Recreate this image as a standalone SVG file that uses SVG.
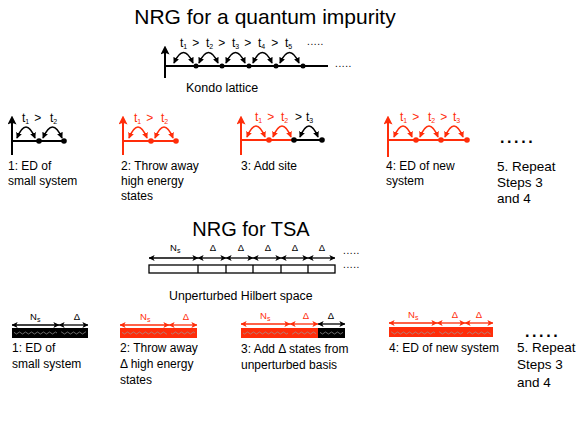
<svg xmlns="http://www.w3.org/2000/svg" width="581" height="432" viewBox="0 0 581 432">
<defs>
<style>
text{font-family:"Liberation Sans",Arial,sans-serif;fill:#000}
.r{fill:#FF2D0A}
.title{font-size:20px}
.lab{font-size:12px}
.big{font-size:13.5px}
.t{font-size:12px}
.gt{font-size:10px}
.ns{font-size:9.5px}
.sub{font-size:7px}
.ln{stroke:#000;stroke-width:2;fill:none}
.lnr{stroke:#FF2D0A;stroke-width:2;fill:none}
.arc{stroke:#000;stroke-width:1.6;fill:none;marker-start:url(#ah);marker-end:url(#ah)}
.arcr{stroke:#FF2D0A;stroke-width:1.6;fill:none;marker-start:url(#ahr);marker-end:url(#ahr)}
.dbl{stroke:#000;stroke-width:1.3;fill:none;marker-start:url(#hh);marker-end:url(#hh)}
.dblr{stroke:#FF2D0A;stroke-width:1.3;fill:none;marker-start:url(#hhr);marker-end:url(#hhr)}
.ax{stroke:#000;stroke-width:2;marker-end:url(#up)}
.axr{stroke:#FF2D0A;stroke-width:2;marker-end:url(#upr)}
.dot{fill:#000}
.dotr{fill:#FF2D0A}
</style>
<marker id="ah" viewBox="0 0 8 8" refX="7" refY="4" markerWidth="6" markerHeight="6" markerUnits="userSpaceOnUse" orient="auto-start-reverse"><path d="M0,0 L8,4 L0,8 z" fill="#000"/></marker>
<marker id="ahr" viewBox="0 0 8 8" refX="7" refY="4" markerWidth="6" markerHeight="6" markerUnits="userSpaceOnUse" orient="auto-start-reverse"><path d="M0,0 L8,4 L0,8 z" fill="#FF2D0A"/></marker>
<marker id="hh" viewBox="0 0 8 8" refX="7.5" refY="4" markerWidth="6" markerHeight="6" markerUnits="userSpaceOnUse" orient="auto-start-reverse"><path d="M0,0 L8,4 L0,8 L2,4 z" fill="#000"/></marker>
<marker id="hhr" viewBox="0 0 8 8" refX="7.5" refY="4" markerWidth="6" markerHeight="6" markerUnits="userSpaceOnUse" orient="auto-start-reverse"><path d="M0,0 L8,4 L0,8 L2,4 z" fill="#FF2D0A"/></marker>
<marker id="up" viewBox="0 0 10 10" refX="5" refY="5" markerWidth="9" markerHeight="9" markerUnits="userSpaceOnUse" orient="auto"><path d="M0,0 L10,5 L0,10 L2,5 z" fill="#000"/></marker>
<marker id="upr" viewBox="0 0 10 10" refX="5" refY="5" markerWidth="9" markerHeight="9" markerUnits="userSpaceOnUse" orient="auto"><path d="M0,0 L10,5 L0,10 L2,5 z" fill="#FF2D0A"/></marker>
<pattern id="wave" width="6" height="6" patternUnits="userSpaceOnUse" x="0" y="330">
<path d="M0,3 Q1.5,1 3,3 T6,3" stroke="#9a9a9a" stroke-width="0.7" fill="none"/>
</pattern>
</defs>
<rect width="581" height="432" fill="#fff"/>

<text class="title" x="265" y="24" text-anchor="middle" style="font-size:21px">NRG for a quantum impurity</text>

<g id="kondo-lattice">
<line class="ax" x1="165" y1="78" x2="165" y2="50"/>
<line class="ln" x1="165" y1="66" x2="328" y2="66"/>
<circle class="dot" cx="196" cy="66" r="2.5"/>
<circle class="dot" cx="222" cy="66" r="2.5"/>
<circle class="dot" cx="249" cy="66" r="2.5"/>
<circle class="dot" cx="276" cy="66" r="2.5"/>
<circle class="dot" cx="303" cy="66" r="2.5"/>
<path class="arc" d="M174,63 Q183.5,42 193,63"/>
<path class="arc" d="M199,63 Q208.5,42 218,63"/>
<path class="arc" d="M226,63 Q235.5,42 245,63"/>
<path class="arc" d="M253,63 Q262.5,42 272,63"/>
<path class="arc" d="M280,63 Q289.5,42 299,63"/>
<text class="t" x="180" y="47">t<tspan class="sub" dy="2">1</tspan><tspan dx="5" dy="-2">&gt;</tspan></text>
<text class="t" x="206" y="47">t<tspan class="sub" dy="2">2</tspan><tspan dx="5" dy="-2">&gt;</tspan></text>
<text class="t" x="232" y="47">t<tspan class="sub" dy="2">3</tspan><tspan dx="5" dy="-2">&gt;</tspan></text>
<text class="t" x="258" y="47">t<tspan class="sub" dy="2">4</tspan><tspan dx="6" dy="-2">&gt;</tspan></text>
<text class="t" x="285" y="47">t<tspan class="sub" dy="2">5</tspan></text>
<text class="gt" x="307" y="45" letter-spacing="0.6">.....</text>
<text class="gt" x="335" y="67" letter-spacing="0.6">.....</text>
<text class="lab" x="186" y="92" style="font-size:12.5px">Kondo lattice</text>
</g>

<g id="nrg-step1">
<line class="ax" x1="12" y1="155" x2="12" y2="120"/>
<line class="ln" x1="12" y1="141" x2="64" y2="141"/>
<circle class="dot" cx="39" cy="141" r="2.8"/>
<circle class="dot" cx="64" cy="141" r="2.8"/>
<path class="arc" d="M17,138 Q26,116 35,138"/>
<path class="arc" d="M43,138 Q52.5,116 62,138"/>
<text class="t" x="22" y="122">t<tspan class="sub" dy="2">1</tspan><tspan dx="5" dy="-2">&gt;</tspan></text>
<text class="t" x="50" y="122">t<tspan class="sub" dy="2">2</tspan></text>
<text class="lab" x="8" y="170">1: ED of</text>
<text class="lab" x="8" y="185">small system</text>
</g>

<g id="nrg-step2">
<line class="axr" x1="123" y1="155" x2="123" y2="120"/>
<line class="lnr" x1="123" y1="141" x2="176" y2="141"/>
<circle class="dotr" cx="151" cy="141" r="2.8"/>
<circle class="dotr" cx="176" cy="141" r="2.8"/>
<path class="arcr" d="M129,138 Q138,116 147,138"/>
<path class="arcr" d="M155,138 Q164,116 173,138"/>
<text class="t r" x="134" y="122">t<tspan class="sub" dy="2">1</tspan><tspan dx="5" dy="-2">&gt;</tspan></text>
<text class="t r" x="161" y="122">t<tspan class="sub" dy="2">2</tspan></text>
<text class="lab" x="121" y="170">2: Throw away</text>
<text class="lab" x="121" y="185">high energy</text>
<text class="lab" x="121" y="200">states</text>
</g>

<g id="nrg-step3">
<line class="axr" x1="241" y1="155" x2="241" y2="120"/>
<line class="lnr" x1="241" y1="140" x2="294" y2="140"/>
<line class="ln" x1="294" y1="140" x2="322" y2="140"/>
<circle class="dotr" cx="269" cy="140" r="2.8"/>
<circle class="dot" cx="294" cy="140" r="2.8"/>
<circle class="dot" cx="322" cy="140" r="2.8"/>
<path class="arcr" d="M247,137 Q256,115 265,137"/>
<path class="arcr" d="M273,137 Q282,115 291,137"/>
<path class="arc" d="M300,137 Q309,115 318,137"/>
<text class="t r" x="255" y="121">t<tspan class="sub" dy="2">1</tspan><tspan dx="5" dy="-2">&gt;</tspan></text>
<text class="t r" x="281" y="121">t<tspan class="sub" dy="2">2</tspan></text>
<text class="t" x="295" y="121">&gt;</text>
<text class="t" x="306" y="121">t<tspan class="sub" dy="2">3</tspan></text>
<text class="lab" x="241" y="170">3: Add site</text>
</g>

<g id="nrg-step4">
<line class="axr" x1="388" y1="157" x2="388" y2="120"/>
<line class="lnr" x1="388" y1="140" x2="467" y2="140"/>
<circle class="dotr" cx="416" cy="140" r="2.8"/>
<circle class="dotr" cx="441" cy="140" r="2.8"/>
<circle class="dotr" cx="467" cy="140" r="2.8"/>
<path class="arcr" d="M394,137 Q403,115 412,137"/>
<path class="arcr" d="M420,137 Q429,115 438,137"/>
<path class="arcr" d="M445,137 Q454,115 463,137"/>
<text class="t r" x="400" y="121">t<tspan class="sub" dy="2">1</tspan><tspan dx="5" dy="-2">&gt;</tspan></text>
<text class="t r" x="428" y="121">t<tspan class="sub" dy="2">2</tspan><tspan dx="5" dy="-2">&gt;</tspan></text>
<text class="t r" x="453" y="121">t<tspan class="sub" dy="2">3</tspan></text>
<text class="lab" x="386" y="170">4: ED of new</text>
<text class="lab" x="386" y="185">system</text>
</g>

<g id="nrg-step5">
<text x="500" y="143" style="font-size:16px;font-weight:bold" letter-spacing="2.6">.....</text>
<text class="big" x="497" y="171">5. Repeat</text>
<text class="big" x="497" y="187">Steps 3</text>
<text class="big" x="497" y="203">and 4</text>
</g>

<text class="title" x="251" y="236" text-anchor="middle">NRG for TSA</text>

<g id="hilbert-space">
<rect x="149" y="265" width="186" height="8" fill="#fff" stroke="#000" stroke-width="1.3"/>
<line x1="198" y1="265" x2="198" y2="273" stroke="#000" stroke-width="1.3"/>
<line x1="226" y1="265" x2="226" y2="273" stroke="#000" stroke-width="1.3"/>
<line x1="253" y1="265" x2="253" y2="273" stroke="#000" stroke-width="1.3"/>
<line x1="281" y1="265" x2="281" y2="273" stroke="#000" stroke-width="1.3"/>
<line x1="308" y1="265" x2="308" y2="273" stroke="#000" stroke-width="1.3"/>
<line class="dbl" x1="149" y1="258" x2="198" y2="258"/>
<line class="dbl" x1="198" y1="258" x2="226" y2="258"/>
<line class="dbl" x1="226" y1="258" x2="253" y2="258"/>
<line class="dbl" x1="253" y1="258" x2="281" y2="258"/>
<line class="dbl" x1="281" y1="258" x2="308" y2="258"/>
<line class="dbl" x1="308" y1="258" x2="335" y2="258"/>
<text class="ns" x="170" y="251">N<tspan class="sub" dy="1.5">s</tspan></text>
<text class="ns" x="213" y="251" text-anchor="middle">Δ</text>
<text class="ns" x="241" y="251" text-anchor="middle">Δ</text>
<text class="ns" x="268" y="251" text-anchor="middle">Δ</text>
<text class="ns" x="295" y="251" text-anchor="middle">Δ</text>
<text class="ns" x="322" y="251" text-anchor="middle">Δ</text>
<text class="gt" x="343" y="254" letter-spacing="0.6">.....</text>
<text class="gt" x="343" y="268" letter-spacing="0.6">.....</text>
<text class="lab" x="169" y="300" style="font-size:12.3px">Unperturbed Hilbert space</text>
</g>

<g id="tsa-step1">
<rect x="12" y="328" width="76" height="10" fill="#000"/>
<rect x="14" y="331" width="43" height="5" fill="url(#wave)"/>
<rect x="61" y="331" width="25" height="5" fill="url(#wave)"/>
<line class="dbl" x1="12" y1="325" x2="59" y2="325"/>
<line class="dbl" x1="59" y1="325" x2="88" y2="325"/>
<text class="ns" x="30" y="320">N<tspan class="sub" dy="1.5">s</tspan></text>
<text class="ns" x="77" y="320" text-anchor="middle">Δ</text>
<text class="lab" x="12" y="352">1: ED of</text>
<text class="lab" x="12" y="368">small system</text>
</g>

<g id="tsa-step2">
<rect x="120" y="328" width="77" height="10" fill="#FF2D0A"/>
<rect x="122" y="331" width="45" height="5" fill="url(#wave)"/>
<rect x="171" y="331" width="24" height="5" fill="url(#wave)"/>
<line class="dblr" x1="120" y1="325" x2="169" y2="325"/>
<line class="dblr" x1="169" y1="325" x2="197" y2="325"/>
<text class="ns r" x="140" y="320">N<tspan class="sub" dy="1.5">s</tspan></text>
<text class="ns r" x="186" y="320" text-anchor="middle">Δ</text>
<text class="lab" x="120" y="352">2: Throw away</text>
<text class="lab" x="120" y="368">Δ high energy</text>
<text class="lab" x="120" y="384">states</text>
</g>

<g id="tsa-step3">
<rect x="241" y="328" width="77" height="10" fill="#FF2D0A"/>
<rect x="318" y="328" width="27" height="10" fill="#000"/>
<rect x="243" y="331" width="45" height="5" fill="url(#wave)"/>
<rect x="292" y="331" width="24" height="5" fill="url(#wave)"/>
<rect x="320" y="331" width="23" height="5" fill="url(#wave)"/>
<line class="dblr" x1="241" y1="324" x2="290" y2="324"/>
<line class="dblr" x1="290" y1="324" x2="318" y2="324"/>
<line class="dbl" x1="318" y1="324" x2="345" y2="324"/>
<text class="ns r" x="260" y="319">N<tspan class="sub" dy="1.5">s</tspan></text>
<text class="ns r" x="306" y="319" text-anchor="middle">Δ</text>
<text class="ns" x="331" y="319" text-anchor="middle">Δ</text>
<text class="lab" x="241" y="353">3: Add Δ states from</text>
<text class="lab" x="241" y="369">unperturbed basis</text>
</g>

<g id="tsa-step4">
<rect x="389" y="327" width="104" height="10" fill="#FF2D0A"/>
<rect x="391" y="330" width="44" height="5" fill="url(#wave)"/>
<rect x="439" y="330" width="24" height="5" fill="url(#wave)"/>
<rect x="467" y="330" width="24" height="5" fill="url(#wave)"/>
<line class="dblr" x1="389" y1="323" x2="437" y2="323"/>
<line class="dblr" x1="437" y1="323" x2="465" y2="323"/>
<line class="dblr" x1="465" y1="323" x2="493" y2="323"/>
<text class="ns r" x="408" y="318">N<tspan class="sub" dy="1.5">s</tspan></text>
<text class="ns r" x="455" y="318" text-anchor="middle">Δ</text>
<text class="ns r" x="479" y="318" text-anchor="middle">Δ</text>
<text class="lab" x="389" y="352">4: ED of new system</text>
</g>

<g id="tsa-step5">
<text x="525" y="337" style="font-size:16px;font-weight:bold" letter-spacing="2.6">.....</text>
<text class="big" x="517" y="352">5. Repeat</text>
<text class="big" x="517" y="369">Steps 3</text>
<text class="big" x="517" y="387">and 4</text>
</g>
</svg>
